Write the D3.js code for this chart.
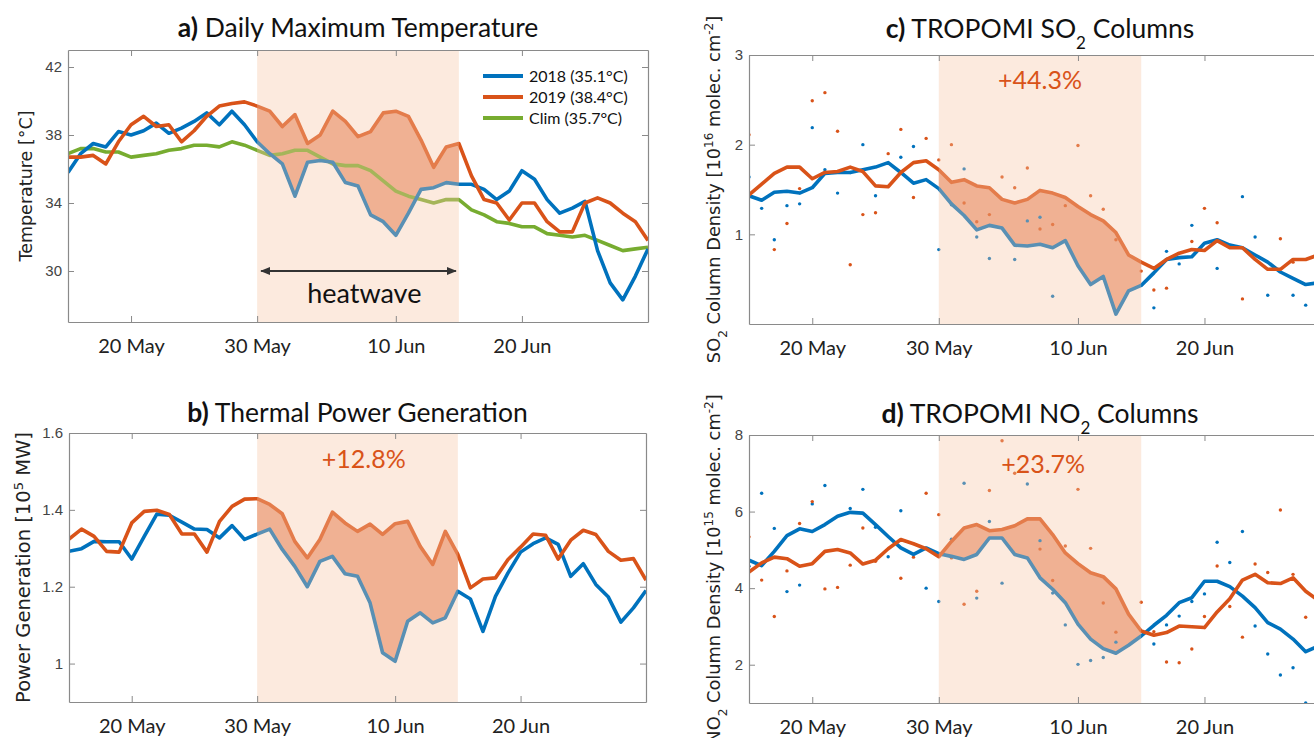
<!DOCTYPE html>
<html>
<head>
<meta charset="utf-8">
<script src="https://cdn.jsdelivr.net/npm/d3@7"></script>
<style>
  body { margin: 0; background: #fff; }
  svg { display: block; }
</style>
</head>
<body>
<svg id="chart"></svg>
<script>
// daily x values: 15 May .. 30 Jun 2019
var dates = d3.timeDay.range(new Date(2019, 4, 15), new Date(2019, 6, 1));
var tickDates = [new Date(2019, 4, 20), new Date(2019, 4, 30), new Date(2019, 5, 10), new Date(2019, 5, 20)];
var heatStart = new Date(2019, 4, 30), heatEnd = new Date(2019, 5, 15);

// a) daily maximum temperature [°C]
var tmax2018 = [35.8, 36.9, 37.5, 37.3, 38.2, 38.0, 38.25, 38.7, 38.1, 38.4, 38.8, 39.3, 38.6, 39.4, 38.6, 37.6,
  36.9, 36.3, 34.4, 36.4, 36.5, 36.4, 35.2, 35.0, 33.3, 32.9, 32.1, 33.4, 34.8, 34.9, 35.2, 35.1,
  35.1, 34.8, 34.2, 34.7, 35.9, 35.4, 34.2, 33.4, 33.7, 34.1, 31.2, 29.3, 28.3, 29.7, 31.3];
var tmax2019 = [36.7, 36.7, 36.8, 36.3, 37.6, 38.6, 39.1, 38.5, 38.6, 37.6, 38.25, 39.1, 39.7, 39.85, 39.95, 39.7,
  39.4, 38.5, 39.2, 37.5, 38.0, 39.4, 38.8, 37.9, 38.2, 39.3, 39.4, 39.1, 37.7, 36.1, 37.3, 37.5,
  35.6, 34.2, 34.0, 33.0, 34.0, 34.0, 32.9, 32.3, 32.3, 34.0, 34.3, 34.0, 33.4, 32.9, 31.8];
var tmaxClim = [36.9, 37.2, 37.2, 37.0, 37.0, 36.7, 36.8, 36.9, 37.1, 37.2, 37.4, 37.4, 37.3, 37.6, 37.4, 37.1,
  36.8, 36.9, 37.1, 37.1, 36.7, 36.3, 36.2, 36.2, 35.9, 35.3, 34.7, 34.4, 34.2, 34.0, 34.2, 34.2,
  33.6, 33.3, 32.9, 32.8, 32.6, 32.6, 32.2, 32.1, 32.0, 32.1, 31.8, 31.5, 31.2, 31.3, 31.4];
var legendLabels = ["2018 (35.1°C)", "2019 (38.4°C)", "Clim (35.7°C)"];

// b) thermal power generation [10^5 MW]
var power2018 = [1.292, 1.299, 1.318, 1.317, 1.317, 1.272, 1.331, 1.389, 1.386, 1.368, 1.350, 1.349, 1.327, 1.359, 1.323, 1.337,
  1.350, 1.297, 1.253, 1.200, 1.266, 1.279, 1.234, 1.227, 1.158, 1.028, 1.006, 1.110, 1.132, 1.106, 1.119, 1.188,
  1.168, 1.084, 1.175, 1.236, 1.290, 1.312, 1.327, 1.310, 1.227, 1.260, 1.206, 1.173, 1.108, 1.145, 1.190];
var power2019 = [1.324, 1.350, 1.331, 1.292, 1.290, 1.366, 1.396, 1.399, 1.388, 1.337, 1.337, 1.290, 1.370, 1.409, 1.428, 1.429,
  1.414, 1.390, 1.318, 1.275, 1.323, 1.394, 1.366, 1.344, 1.363, 1.336, 1.364, 1.370, 1.305, 1.258, 1.344, 1.284,
  1.197, 1.220, 1.223, 1.271, 1.303, 1.337, 1.334, 1.272, 1.321, 1.347, 1.336, 1.292, 1.269, 1.273, 1.217];

// c) TROPOMI SO2 [10^16 molec. cm^-2], smoothed lines and daily values
var so2Line2018 = [1.43, 1.38, 1.47, 1.48, 1.46, 1.52, 1.68, 1.69, 1.69, 1.72, 1.75, 1.80, 1.69, 1.57, 1.61, 1.51,
  1.34, 1.21, 1.05, 1.10, 1.07, 0.88, 0.87, 0.89, 0.85, 0.93, 0.65, 0.44, 0.53, 0.11, 0.37, 0.43,
  0.57, 0.72, 0.74, 0.75, 0.90, 0.94, 0.88, 0.85, 0.77, 0.69, 0.58, 0.51, 0.44, 0.46, 0.46];
var so2Line2019 = [1.44, 1.56, 1.68, 1.75, 1.75, 1.62, 1.69, 1.70, 1.75, 1.70, 1.54, 1.53, 1.69, 1.80, 1.82, 1.72,
  1.58, 1.61, 1.54, 1.52, 1.39, 1.35, 1.39, 1.49, 1.46, 1.41, 1.31, 1.22, 1.15, 1.02, 0.77, 0.69,
  0.62, 0.72, 0.79, 0.83, 0.82, 0.93, 0.85, 0.85, 0.72, 0.61, 0.61, 0.72, 0.72, 0.77, 0.70];
var so2Dots2018 = [1.64, 1.29, 0.94, 1.32, 1.34, 2.19, 1.72, 1.46, 1.69, 2.00, 1.43, null, 1.86, 1.98, null, 0.83,
  1.33, 1.73, 0.97, 0.73, null, 0.72, 1.15, 1.19, 0.31, null, null, null, null, null, null, null,
  0.18, 0.81, 0.67, 1.10, null, 0.62, null, 1.42, 0.97, 0.32, null, 0.32, 0.21, null, null];
var so2Dots2019 = [2.11, null, 0.83, 1.12, 1.51, 2.49, 2.58, 2.15, 0.66, 1.22, 1.24, 1.90, 2.17, 1.41, 2.07, 1.83,
  2.00, 1.35, 1.14, 1.22, 1.64, 1.52, 1.74, 1.06, 1.11, 1.32, 1.99, 1.43, 1.28, 0.94, null, 0.59,
  0.38, 0.40, null, 0.92, 1.29, 1.13, null, 0.28, null, null, 0.95, 0.69, null, null, null];

// d) TROPOMI NO2 [10^15 molec. cm^-2]
var no2Line2018 = [4.73, 4.59, 4.96, 5.37, 5.55, 5.48, 5.66, 5.88, 5.98, 5.96, 5.66, 5.35, 5.05, 4.88, 5.05, 4.90,
  4.83, 4.75, 4.88, 5.31, 5.31, 4.88, 4.79, 4.27, 3.97, 3.62, 3.06, 2.67, 2.42, 2.30, 2.51, 2.75,
  3.03, 3.29, 3.62, 3.75, 4.18, 4.18, 4.04, 3.79, 3.49, 3.10, 2.93, 2.67, 2.34, 2.49, 2.60];
var no2Line2019 = [4.42, 4.66, 4.81, 4.77, 4.57, 4.64, 4.96, 5.01, 4.92, 4.63, 4.73, 5.03, 5.27, 5.16, 5.03, 4.82,
  5.22, 5.57, 5.66, 5.50, 5.53, 5.63, 5.81, 5.81, 5.40, 4.92, 4.64, 4.40, 4.30, 3.98, 3.32, 2.88,
  2.77, 2.84, 3.01, 2.99, 2.97, 3.38, 3.72, 4.21, 4.36, 4.14, 4.12, 4.27, 3.92, 3.68, 3.50];
var no2Dots2018 = [4.57, 6.48, 5.56, 3.91, 4.08, 6.20, 6.68, null, 6.08, 6.58, 5.59, 4.82, 6.02, null, 4.00, 3.65,
  5.28, 6.74, 3.74, 5.74, 4.13, null, 6.72, 5.24, 3.87, 3.04, 2.01, 2.11, 2.19, 2.59, null, null,
  2.54, 3.04, 3.27, 3.65, 3.85, 5.20, 4.67, 5.48, 3.01, 2.28, 1.73, 1.92, 1.00, 3.46, null];
var no2Dots2019 = [5.34, 4.21, 3.26, 4.45, 5.69, 6.26, 3.98, 4.02, 4.60, 5.57, 4.70, null, 4.26, 4.81, 6.48, 5.92,
  4.79, 3.58, 3.92, 6.55, 7.85, 7.00, null, 5.02, 4.20, 5.10, 6.58, 5.04, 3.61, 2.85, null, 3.63,
  2.86, 2.07, 2.05, 2.41, 3.26, 4.58, 3.52, 2.72, 4.63, 4.41, 6.04, 4.36, 3.24, 3.36, null];

var blue = "#0072bd", orange = "#d95319", green = "#77ac30";

var svg = d3.select("#chart").attr("width", 1314).attr("height", 738);

var defs = svg.append("defs");
defs.append("marker").attr("id", "arrowhead")
    .attr("viewBox", "0 0 10 10").attr("refX", 9).attr("refY", 5)
    .attr("markerWidth", 5).attr("markerHeight", 5).attr("orient", "auto-start-reverse")
  .append("path").attr("d", "M0,1 L10,5 L0,9 z").attr("fill", "#333");

// text pieces are plain strings or {text, kind: "sub"|"sup"}
function addPieces(sel, pieces, small) {
  pieces.forEach(function(p) {
    if (typeof p === "string") { sel.append("tspan").text(p); return; }
    sel.append("tspan").text(p.text)
      .attr("baseline-shift", p.kind === "sub" ? "sub" : "super")
      .style("font-size", small);
  });
}

function panel(o) {
  var g = svg.append("g").attr("transform", "translate(" + o.left + "," + o.top + ")");
  var x = d3.scaleTime().domain([dates[0], dates[dates.length - 1]]).range([0, o.w]);
  var y = d3.scaleLinear().domain(o.ydom).range([o.h, 0]);

  g.append("clipPath").attr("id", "clip" + o.id)
    .append("rect").attr("width", o.w).attr("height", o.h);
  var plot = g.append("g").attr("clip-path", "url(#clip" + o.id + ")");

  // difference between the two years during the heatwave
  var hw = d3.range(dates.length).filter(function(i) { return dates[i] >= heatStart && dates[i] <= heatEnd; });
  plot.append("path").datum(hw)
    .attr("fill", "#eca78a")
    .attr("d", d3.area()
      .x(function(i) { return x(dates[i]); })
      .y0(function(i) { return y(o.lo[i]); })
      .y1(function(i) { return y(o.hi[i]); }));

  (o.dots || []).forEach(function(s) {
    plot.selectAll(null)
      .data(d3.range(dates.length).filter(function(i) { return s.values[i] != null; }))
      .enter().append("circle")
      .attr("cx", function(i) { return x(dates[i]); })
      .attr("cy", function(i) { return y(s.values[i]); })
      .attr("r", 1.7)
      .attr("fill", s.color);
  });

  var line = d3.line();
  o.lines.forEach(function(s) {
    plot.append("path")
      .attr("fill", "none")
      .attr("stroke", s.color)
      .attr("stroke-width", 3.6)
      .attr("stroke-linejoin", "round")
      .attr("d", line(s.values.map(function(v, i) { return [x(dates[i]), y(v)]; })));
  });

  // heatwave shading laid over everything
  plot.append("rect")
    .attr("x", x(heatStart)).attr("width", x(heatEnd) - x(heatStart))
    .attr("y", 0).attr("height", o.h)
    .attr("fill", "rgb(247,198,163)").attr("opacity", 0.36);

  // axes box, MATLAB style ticks inside
  var axisColor = "#8a8a8a";
  var xb = g.append("g").attr("transform", "translate(0," + o.h + ")")
    .call(d3.axisBottom(x).tickValues(tickDates).tickSizeInner(-6).tickSizeOuter(0)
      .tickFormat(d3.timeFormat("%-d %b")));
  xb.selectAll("text").attr("y", 31).attr("dy", null)
    .style("font-family", "Lato, sans-serif").style("font-size", "20px").attr("fill", "#222");
  g.append("g").call(d3.axisTop(x).tickValues(tickDates).tickSizeInner(-6).tickSizeOuter(0).tickFormat(""));
  var yl = g.append("g")
    .call(d3.axisLeft(y).tickValues(o.yticks).tickSizeInner(-6).tickSizeOuter(0).tickPadding(6)
      .tickFormat(function(d) { return String(d); }));
  yl.selectAll("text").attr("x", -6)
    .style("font-family", "'Liberation Sans', Arial, sans-serif").style("font-size", "15px").attr("fill", "#444");
  g.append("g").attr("transform", "translate(" + o.w + ",0)")
    .call(d3.axisRight(y).tickValues(o.yticks).tickSizeInner(-6).tickSizeOuter(0).tickFormat(""));
  g.selectAll(".domain").attr("stroke", axisColor).attr("stroke-width", 1.2);
  g.selectAll(".tick line").attr("stroke", axisColor);

  // title
  var t = svg.append("text")
    .attr("x", o.left + o.w / 2).attr("y", o.titleY)
    .attr("text-anchor", "middle")
    .style("font-family", "Lato, sans-serif").style("font-size", "26.5px").attr("fill", "#111");
  t.append("tspan").attr("font-weight", "bold").text(o.title[0]);
  addPieces(t, o.title.slice(1), "17px");

  // y label
  var yt = svg.append("text")
    .attr("transform", "translate(" + o.ylabelX + "," + (o.top + o.h / 2) + ") rotate(-90)")
    .attr("text-anchor", "middle")
    .style("font-family", "'DejaVu Sans', Verdana, sans-serif").style("font-size", o.ylabelSize + "px")
    .attr("fill", "#222");
  addPieces(yt, o.ylabel, Math.round(o.ylabelSize * 0.65) + "px");

  if (o.note) {
    g.append("text")
      .attr("x", x(o.note.date)).attr("y", y(o.note.value))
      .attr("text-anchor", "middle")
      .style("font-family", "Lato, sans-serif").style("font-size", "25px")
      .attr("fill", orange)
      .text(o.note.text);
  }
  return {g: g, x: x, y: y};
}

var pa = panel({
  id: "a", left: 68, top: 50, w: 580, h: 272, ydom: [27, 43], yticks: [30, 34, 38, 42],
  lo: tmax2018, hi: tmax2019,
  lines: [{values: tmaxClim, color: green}, {values: tmax2018, color: blue}, {values: tmax2019, color: orange}],
  title: ["a)", " Daily Maximum Temperature"], titleY: 37,
  ylabel: ["Temperature [°C]"], ylabelX: 32, ylabelSize: 17.5
});

// legend
var legendColors = [blue, orange, green];
var leg = pa.g.append("g").attr("transform", "translate(415,26)");
legendLabels.forEach(function(lab, i) {
  leg.append("line").attr("x1", 0).attr("x2", 40).attr("y1", i * 21).attr("y2", i * 21)
    .attr("stroke", legendColors[i]).attr("stroke-width", 4);
  leg.append("text").attr("x", 46).attr("y", i * 21).attr("dy", "0.35em")
    .style("font-family", "Lato, sans-serif").style("font-size", "16px").attr("fill", "#111")
    .text(lab);
});

// heatwave arrow
pa.g.append("line")
  .attr("x1", pa.x(heatStart) + 4).attr("x2", pa.x(heatEnd) - 3)
  .attr("y1", pa.y(30)).attr("y2", pa.y(30))
  .attr("stroke", "#333").attr("stroke-width", 2)
  .attr("marker-start", "url(#arrowhead)").attr("marker-end", "url(#arrowhead)");
pa.g.append("text")
  .attr("x", pa.x(new Date(2019, 5, 7, 12))).attr("y", pa.y(28.1))
  .attr("text-anchor", "middle")
  .style("font-family", "Lato, sans-serif").style("font-size", "27px").attr("fill", "#111")
  .text("heatwave");

panel({
  id: "b", left: 69, top: 433, w: 577, h: 269, ydom: [0.9, 1.6], yticks: [1, 1.2, 1.4, 1.6],
  lo: power2018, hi: power2019,
  lines: [{values: power2018, color: blue}, {values: power2019, color: orange}],
  title: ["b)", " Thermal Power Generation"], titleY: 422,
  ylabel: ["Power Generation [10", {text: "5", kind: "sup"}, " MW]"], ylabelX: 30, ylabelSize: 19.5,
  note: {date: new Date(2019, 5, 7, 12), value: 1.51, text: "+12.8%"}
});

panel({
  id: "c", left: 749, top: 55, w: 582, h: 269, ydom: [0, 3], yticks: [1, 2, 3],
  lo: so2Line2018, hi: so2Line2019,
  dots: [{values: so2Dots2018, color: blue}, {values: so2Dots2019, color: orange}],
  lines: [{values: so2Line2018, color: blue}, {values: so2Line2019, color: orange}],
  title: ["c)", " TROPOMI SO", {text: "2", kind: "sub"}, " Columns"], titleY: 38,
  ylabel: ["SO", {text: "2", kind: "sub"}, " Column Density [10", {text: "16", kind: "sup"}, " molec. cm", {text: "-2", kind: "sup"}, "]"],
  ylabelX: 720, ylabelSize: 17.8,
  note: {date: new Date(2019, 5, 7), value: 2.62, text: "+44.3%"}
});

panel({
  id: "d", left: 749, top: 435, w: 582, h: 268, ydom: [1, 8], yticks: [2, 4, 6, 8],
  lo: no2Line2018, hi: no2Line2019,
  dots: [{values: no2Dots2018, color: blue}, {values: no2Dots2019, color: orange}],
  lines: [{values: no2Line2018, color: blue}, {values: no2Line2019, color: orange}],
  title: ["d)", " TROPOMI NO", {text: "2", kind: "sub"}, " Columns"], titleY: 423,
  ylabel: ["NO", {text: "2", kind: "sub"}, " Column Density [10", {text: "15", kind: "sup"}, " molec. cm", {text: "-2", kind: "sup"}, "]"],
  ylabelX: 720, ylabelSize: 17.8,
  note: {date: new Date(2019, 5, 7, 6), value: 7.01, text: "+23.7%"}
});
</script>
</body>
</html>
